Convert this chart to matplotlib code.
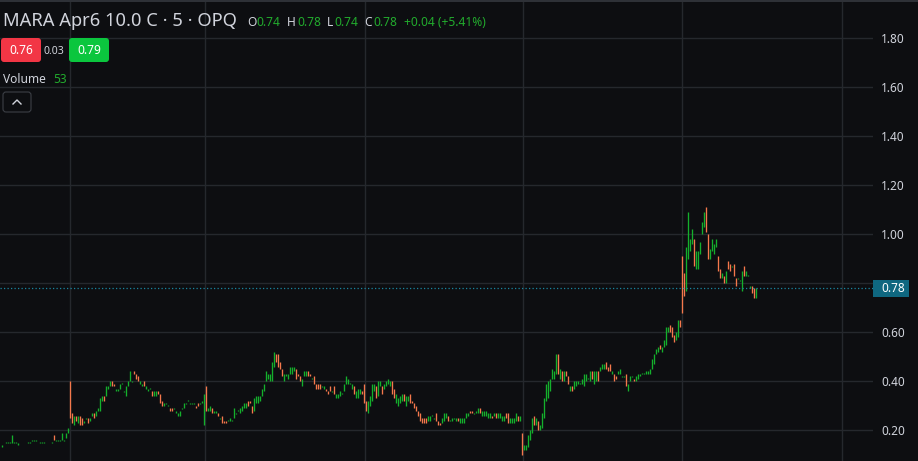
import numpy as np
import matplotlib
matplotlib.use("Agg")
import matplotlib.pyplot as plt
import matplotlib.transforms as mtransforms
from matplotlib.patches import FancyBboxPatch, Rectangle
from matplotlib.lines import Line2D

plt.rcParams['font.family'] = ['Noto Sans', 'DejaVu Sans']

# 5 minute bars, oldest first (open / close)
opens = [
    0.14, 0.13, 0.14, 0.15, 0.15, 0.15, 0.15, 0.15, 0.15, 0.14,
    0.14, 0.14, 0.14, 0.14, 0.15, 0.15, 0.16, 0.16, 0.16, 0.14,
    0.15, 0.15, 0.15, 0.14, 0.14, 0.14, 0.15, 0.18, 0.16, 0.16,
    0.16, 0.16, 0.16, 0.17, 0.19, 0.40, 0.27, 0.22, 0.26, 0.23,
    0.26, 0.25, 0.23, 0.25, 0.25, 0.24, 0.26, 0.27, 0.26, 0.28,
    0.28, 0.32, 0.34, 0.34, 0.37, 0.38, 0.40, 0.39, 0.36, 0.36,
    0.37, 0.39, 0.36, 0.34, 0.38, 0.40, 0.40, 0.44, 0.43, 0.42,
    0.39, 0.38, 0.40, 0.37, 0.36, 0.37, 0.36, 0.34, 0.34, 0.36,
    0.35, 0.32, 0.30, 0.31, 0.30, 0.29, 0.29, 0.29, 0.27, 0.26,
    0.26, 0.29, 0.29, 0.31, 0.32, 0.31, 0.31, 0.31, 0.30, 0.31,
    0.31, 0.31, 0.22, 0.38, 0.28, 0.28, 0.29, 0.27, 0.27, 0.27,
    0.25, 0.26, 0.24, 0.24, 0.24, 0.24, 0.24, 0.25, 0.27, 0.28,
    0.27, 0.28, 0.29, 0.29, 0.32, 0.32, 0.30, 0.28, 0.31, 0.31,
    0.32, 0.34, 0.36, 0.40, 0.41, 0.40, 0.40, 0.46, 0.51, 0.51,
    0.48, 0.45, 0.40, 0.42, 0.41, 0.43, 0.43, 0.44, 0.45, 0.43,
    0.42, 0.38, 0.42, 0.42, 0.44, 0.43, 0.41, 0.42, 0.39, 0.39,
    0.39, 0.38, 0.37, 0.37, 0.36, 0.38, 0.36, 0.38, 0.33, 0.33,
    0.34, 0.35, 0.36, 0.39, 0.39, 0.39, 0.37, 0.38, 0.33, 0.33,
    0.35, 0.36, 0.39, 0.32, 0.27, 0.30, 0.32, 0.36, 0.38, 0.34,
    0.38, 0.38, 0.37, 0.38, 0.39, 0.38, 0.40, 0.37, 0.31, 0.30,
    0.31, 0.32, 0.35, 0.30, 0.32, 0.35, 0.32, 0.31, 0.30, 0.28,
    0.27, 0.25, 0.25, 0.25, 0.24, 0.24, 0.26, 0.25, 0.27, 0.24,
    0.23, 0.23, 0.24, 0.25, 0.26, 0.24, 0.24, 0.25, 0.24, 0.25,
    0.23, 0.23, 0.23, 0.25, 0.26, 0.28, 0.28, 0.27, 0.27, 0.27,
    0.29, 0.26, 0.26, 0.26, 0.25, 0.25, 0.26, 0.26, 0.27, 0.25,
    0.25, 0.24, 0.24, 0.27, 0.27, 0.23, 0.23, 0.23, 0.24, 0.26,
    0.24, 0.19, 0.12, 0.12, 0.13, 0.16, 0.19, 0.26, 0.22, 0.24,
    0.20, 0.21, 0.25, 0.32, 0.33, 0.36, 0.41, 0.41, 0.43, 0.51,
    0.41, 0.44, 0.40, 0.44, 0.42, 0.36, 0.38, 0.37, 0.38, 0.39,
    0.39, 0.39, 0.38, 0.40, 0.41, 0.40, 0.44, 0.39, 0.40, 0.44,
    0.44, 0.45, 0.45, 0.48, 0.46, 0.47, 0.43, 0.43, 0.42, 0.43,
    0.43, 0.42, 0.42, 0.43, 0.36, 0.40, 0.42, 0.41, 0.40, 0.41,
    0.42, 0.43, 0.43, 0.43, 0.43, 0.43, 0.45, 0.47, 0.51, 0.52,
    0.55, 0.52, 0.54, 0.55, 0.60, 0.63, 0.62, 0.59, 0.57, 0.58,
    0.65, 0.91, 0.84, 0.77, 0.90, 0.93, 0.96, 0.98, 0.86, 0.86,
    0.92, 1.00, 1.03, 1.11, 1.00, 0.90, 0.93, 0.92, 0.95, 0.91,
    0.86, 0.82, 0.83, 0.80, 0.89, 0.88, 0.87, 0.88, 0.82, 0.82,
    0.81, 0.77, 0.87, 0.83, 0.83, 0.78, 0.79, 0.78, 0.74,
]
closes = [
    0.14, 0.14, 0.14, 0.15, 0.15, 0.15, 0.18, 0.15, 0.15, 0.15,
    0.14, 0.14, 0.14, 0.14, 0.15, 0.15, 0.16, 0.16, 0.16, 0.14,
    0.15, 0.15, 0.15, 0.14, 0.14, 0.14, 0.15, 0.16, 0.16, 0.16,
    0.16, 0.19, 0.16, 0.19, 0.21, 0.25, 0.23, 0.26, 0.24, 0.26,
    0.22, 0.22, 0.24, 0.25, 0.23, 0.25, 0.27, 0.25, 0.28, 0.29,
    0.33, 0.34, 0.32, 0.38, 0.38, 0.40, 0.38, 0.38, 0.37, 0.37,
    0.39, 0.39, 0.36, 0.38, 0.40, 0.44, 0.40, 0.43, 0.41, 0.40,
    0.40, 0.39, 0.38, 0.38, 0.37, 0.37, 0.34, 0.36, 0.36, 0.35,
    0.31, 0.30, 0.31, 0.31, 0.30, 0.28, 0.28, 0.29, 0.28, 0.27,
    0.28, 0.29, 0.31, 0.31, 0.32, 0.31, 0.31, 0.31, 0.29, 0.30,
    0.31, 0.32, 0.35, 0.28, 0.29, 0.30, 0.27, 0.28, 0.28, 0.26,
    0.25, 0.23, 0.23, 0.23, 0.24, 0.25, 0.24, 0.29, 0.27, 0.28,
    0.29, 0.30, 0.31, 0.31, 0.30, 0.31, 0.27, 0.33, 0.34, 0.34,
    0.34, 0.37, 0.39, 0.44, 0.43, 0.43, 0.48, 0.52, 0.48, 0.46,
    0.45, 0.42, 0.43, 0.43, 0.43, 0.46, 0.46, 0.46, 0.41, 0.42,
    0.40, 0.41, 0.44, 0.44, 0.42, 0.42, 0.41, 0.39, 0.37, 0.37,
    0.37, 0.38, 0.38, 0.36, 0.35, 0.36, 0.36, 0.35, 0.35, 0.35,
    0.36, 0.35, 0.39, 0.42, 0.41, 0.39, 0.39, 0.35, 0.36, 0.37,
    0.37, 0.35, 0.31, 0.28, 0.32, 0.34, 0.39, 0.39, 0.33, 0.40,
    0.40, 0.35, 0.39, 0.40, 0.41, 0.40, 0.35, 0.33, 0.35, 0.33,
    0.34, 0.35, 0.32, 0.34, 0.34, 0.31, 0.31, 0.29, 0.28, 0.26,
    0.24, 0.23, 0.23, 0.23, 0.26, 0.26, 0.26, 0.25, 0.24, 0.22,
    0.22, 0.25, 0.27, 0.27, 0.24, 0.24, 0.25, 0.25, 0.25, 0.24,
    0.25, 0.25, 0.25, 0.27, 0.27, 0.27, 0.27, 0.27, 0.28, 0.29,
    0.27, 0.28, 0.28, 0.28, 0.27, 0.27, 0.25, 0.27, 0.25, 0.27,
    0.27, 0.26, 0.26, 0.25, 0.23, 0.25, 0.25, 0.25, 0.27, 0.24,
    0.26, 0.10, 0.14, 0.14, 0.18, 0.20, 0.25, 0.22, 0.25, 0.20,
    0.22, 0.27, 0.33, 0.39, 0.40, 0.41, 0.45, 0.44, 0.51, 0.43,
    0.45, 0.40, 0.44, 0.42, 0.39, 0.38, 0.36, 0.40, 0.40, 0.40,
    0.39, 0.41, 0.43, 0.43, 0.41, 0.44, 0.41, 0.44, 0.44, 0.40,
    0.46, 0.47, 0.47, 0.45, 0.44, 0.44, 0.44, 0.40, 0.41, 0.44,
    0.45, 0.42, 0.42, 0.38, 0.39, 0.42, 0.42, 0.40, 0.42, 0.43,
    0.43, 0.43, 0.43, 0.44, 0.44, 0.45, 0.49, 0.51, 0.53, 0.54,
    0.53, 0.54, 0.57, 0.62, 0.62, 0.60, 0.58, 0.56, 0.60, 0.65,
    0.62, 0.68, 0.75, 0.95, 1.09, 0.98, 1.02, 0.87, 0.93, 0.93,
    0.97, 1.05, 1.09, 1.01, 0.90, 0.94, 0.98, 0.96, 0.98, 0.85,
    0.82, 0.84, 0.80, 0.85, 0.86, 0.85, 0.87, 0.83, 0.79, 0.82,
    0.81, 0.85, 0.83, 0.85, 0.83, 0.79, 0.76, 0.74, 0.78,
]

# bar index where each session starts (vertical grid lines)
session_starts = [35, 102.5, 182.5, 261.5, 341, 420.85]
price_ticks = [0.20, 0.40, 0.60, 0.80, 1.00, 1.20, 1.40, 1.60, 1.80]
last_price = 0.78

title = "MARA Apr6 10.0 C · 5 · OPQ"
ohlc_keys = ["O", "H", "L", "C"]
ohlc_vals = ["0.74", "0.78", "0.74", "0.78"]
change = "+0.04 (+5.41%)"
bid, spread, ask = "0.76", "0.03", "0.79"
volume = "53"

BG = "#0d0e11"
GRID = "#25282d"
UP = "#14b02c"
DOWN = "#f5784c"
TXT = "#d1d4dc"
GREEN_TXT = "#22ab2d"

W, H = 918, 461
fig = plt.figure(figsize=(W / 100, H / 100), dpi=100, facecolor=BG)
ax = fig.add_axes([0, 0, 873 / W, 1])
ax.set_facecolor(BG)

o = np.array(opens)
c = np.array(closes)
x = np.arange(len(o))
lo = np.minimum(o, c)
hi = np.maximum(o, c)
flat = (hi - lo) < 0.004
lo = np.where(flat, lo - 0.002, lo)
hi = np.where(flat, hi + 0.002, hi)
cols = np.where(c >= o, UP, DOWN)
ax.vlines(x, lo, hi, colors=cols, lw=0.95, zorder=3)

ax.set_xlim(-0.15, 436.35)
ax.set_ylim(0.0747, 1.9563)
ax.set_xticks(session_starts)
ax.set_yticks(price_ticks)
ax.grid(True, color=GRID, lw=1.0)
ax.set_axisbelow(True)
for s in ax.spines.values():
    s.set_visible(False)
ax.tick_params(axis='x', length=0, labelbottom=False)
ax.yaxis.tick_right()
ax.tick_params(axis='y', length=0, pad=5.8, labelcolor=TXT, labelsize=8.5)
# the 0.80 label sits behind the last price tag
ax.set_yticklabels(["" if abs(p - 0.80) < 1e-9 else "%.2f" % p for p in price_ticks])

ax.axhline(last_price, color="#1a86a0", lw=0.9, ls=(0, (1, 1.8)), zorder=4)

px = mtransforms.IdentityTransform()

def ty(y):
    return H - y

# top border strip
fig.patches.append(Rectangle((0, ty(2)), W, 2, transform=px,
                             facecolor="#2e3137", edgecolor="none", zorder=5))

# last price label on the scale
fig.patches.append(Rectangle((873, ty(297)), 36, 17, transform=px,
                             facecolor="#0f6780", edgecolor="none", zorder=5))
fig.text(881 / W, 1 - 288.5 / H, "%.2f" % last_price, color="white",
         fontsize=8.5, ha="left", va="center", zorder=6)

# header
fig.text(3 / W, 1 - 21 / H, title, color=TXT, fontsize=13.2,
         ha="left", va="center")
key_x = [247, 287, 327, 364]
val_x = [256, 297, 334, 373]
for k, v, kx, vx in zip(ohlc_keys, ohlc_vals, key_x, val_x):
    fig.text(kx / W, 1 - 22 / H, k, color=TXT, fontsize=8.6, ha="left", va="center")
    fig.text(vx / W, 1 - 22 / H, v, color=GREEN_TXT, fontsize=8.6, ha="left", va="center")
fig.text(404 / W, 1 - 22 / H, change, color=GREEN_TXT, fontsize=8.6,
         ha="left", va="center")

# bid / ask boxes
fig.patches.append(FancyBboxPatch((1, ty(62)), 40, 24, transform=px,
                                  boxstyle="round,pad=0,rounding_size=3",
                                  facecolor="#f23645", edgecolor="none", zorder=5))
fig.patches.append(FancyBboxPatch((69, ty(62)), 40, 24, transform=px,
                                  boxstyle="round,pad=0,rounding_size=3",
                                  facecolor="#0bc63e", edgecolor="none", zorder=5))
fig.text(21 / W, 1 - 51 / H, bid, color="white", fontsize=8.6,
         ha="center", va="center", zorder=6)
fig.text(54 / W, 1 - 51 / H, spread, color=TXT, fontsize=7.5,
         ha="center", va="center")
fig.text(89 / W, 1 - 51 / H, ask, color="white", fontsize=8.6,
         ha="center", va="center", zorder=6)

# volume legend
fig.text(3 / W, 1 - 79 / H, "Volume", color=TXT, fontsize=8.6, ha="left", va="center")
fig.text(53 / W, 1 - 79 / H, volume, color=GREEN_TXT, fontsize=8.6,
         ha="left", va="center")

# collapse button
fig.patches.append(FancyBboxPatch((3, ty(112)), 28, 20, transform=px,
                                  boxstyle="round,pad=0,rounding_size=3",
                                  facecolor=BG, edgecolor="#3c3f46", lw=0.8, zorder=5))
fig.lines.append(Line2D([13, 17, 21], [ty(104), ty(100), ty(104)], transform=px,
                        color=TXT, lw=1.0, zorder=6))

fig.savefig("out.png", dpi=100, facecolor=BG)
